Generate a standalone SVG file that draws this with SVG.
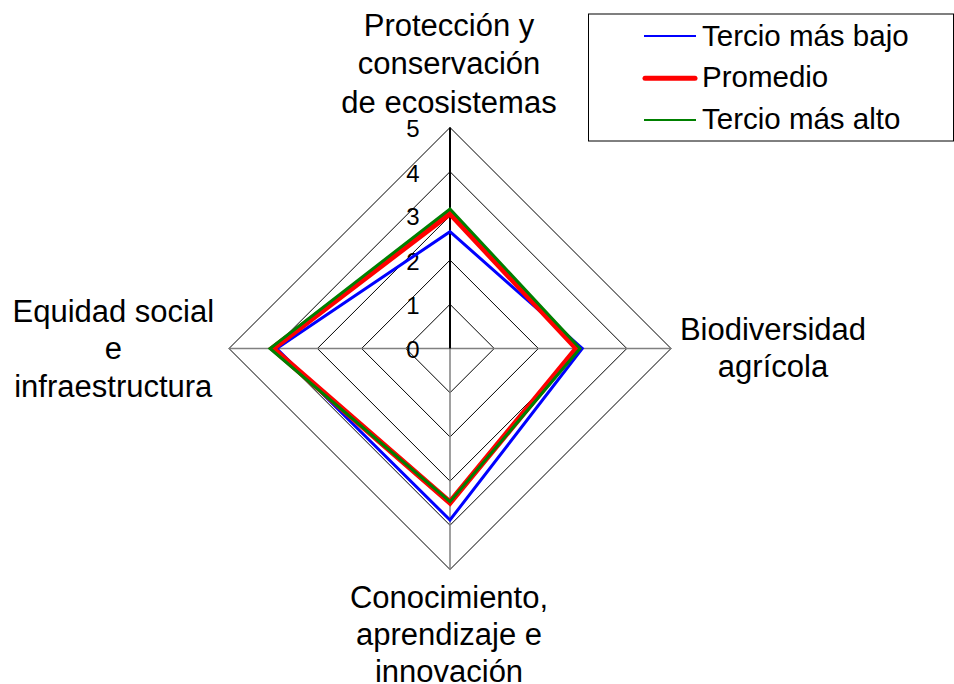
<svg xmlns="http://www.w3.org/2000/svg" width="954" height="684" viewBox="0 0 954 684">
<style>
text{font-family:"Liberation Sans",Arial,sans-serif;fill:#000}
.lbl{font-size:31px;text-anchor:middle}
.tick{font-size:24px;text-anchor:middle}
.leg{font-size:29.5px}
.ring{fill:none;stroke:#000;stroke-width:1}
.axis{stroke:#808080;stroke-width:1.5}
.s{fill:none;stroke-linejoin:miter}
</style>
<rect width="954" height="684" fill="#fff"/>
<g id="grid">
<polygon class="ring" points="450,304.3 494.2,348.5 450,392.7 405.8,348.5"/>
<polygon class="ring" points="450,260.1 538.4,348.5 450,436.9 361.6,348.5"/>
<polygon class="ring" points="450,215.9 582.6,348.5 450,481.1 317.4,348.5"/>
<polygon class="ring" points="450,171.7 626.8,348.5 450,525.3 273.2,348.5"/>
<polygon class="ring" points="450,127.5 671,348.5 450,569.5 229,348.5"/>
<line class="axis" x1="229" y1="348.5" x2="671" y2="348.5"/>
<line class="axis" x1="450" y1="348.5" x2="450" y2="569.5"/>
<line x1="450" y1="348.5" x2="450" y2="127.5" stroke="#000" stroke-width="2"/>
</g>
<g id="ticks">
<text class="tick" x="413" y="358">0</text>
<text class="tick" x="413" y="314">1</text>
<text class="tick" x="413" y="269.5">2</text>
<text class="tick" x="413" y="225">3</text>
<text class="tick" x="413" y="181.5">4</text>
<text class="tick" x="413" y="136.5">5</text>
</g>
<g id="connectors">
<polygon id="serie-bajo" class="s" stroke="#0000ff" stroke-width="3" points="450,231.7 582.3,348.5 450,520 276.7,348.5"/>
<polygon id="serie-promedio" class="s" stroke="#ff0000" stroke-width="6" points="450,213.3 576.7,348.5 450,502.5 272.7,348.5"/>
<polygon id="serie-alto" class="s" stroke="#008000" stroke-width="3" points="450,209 580,348.5 450,501.7 270,348.5"/>
</g>
<g id="node-proteccion">
<text class="lbl" x="449" y="36">Protección y</text>
<text class="lbl" x="449" y="74.3">conservación</text>
<text class="lbl" x="449" y="112.6">de ecosistemas</text>
</g>
<g id="node-biodiversidad">
<text class="lbl" x="773" y="340">Biodiversidad</text>
<text class="lbl" x="773" y="377">agrícola</text>
</g>
<g id="node-conocimiento">
<text class="lbl" x="449" y="608">Conocimiento,</text>
<text class="lbl" x="449" y="645.3">aprendizaje e</text>
<text class="lbl" x="449" y="682">innovación</text>
</g>
<g id="node-equidad">
<text class="lbl" x="113.3" y="321.7">Equidad social</text>
<text class="lbl" x="113.3" y="358.7">e</text>
<text class="lbl" x="113.3" y="396.7">infraestructura</text>
</g>
<g id="legend">
<rect x="588.5" y="14" width="365" height="127" fill="#fff" stroke="#000" stroke-width="1"/>
<line x1="644" y1="36" x2="696" y2="36" stroke="#0000ff" stroke-width="2"/>
<line x1="645" y1="78.3" x2="695" y2="78.3" stroke="#ff0000" stroke-width="5" stroke-linecap="round"/>
<line x1="644" y1="120" x2="696" y2="120" stroke="#008000" stroke-width="2"/>
<text class="leg" x="702" y="45.5">Tercio más bajo</text>
<text class="leg" x="702" y="87">Promedio</text>
<text class="leg" x="702" y="128.5">Tercio más alto</text>
</g>
</svg>
